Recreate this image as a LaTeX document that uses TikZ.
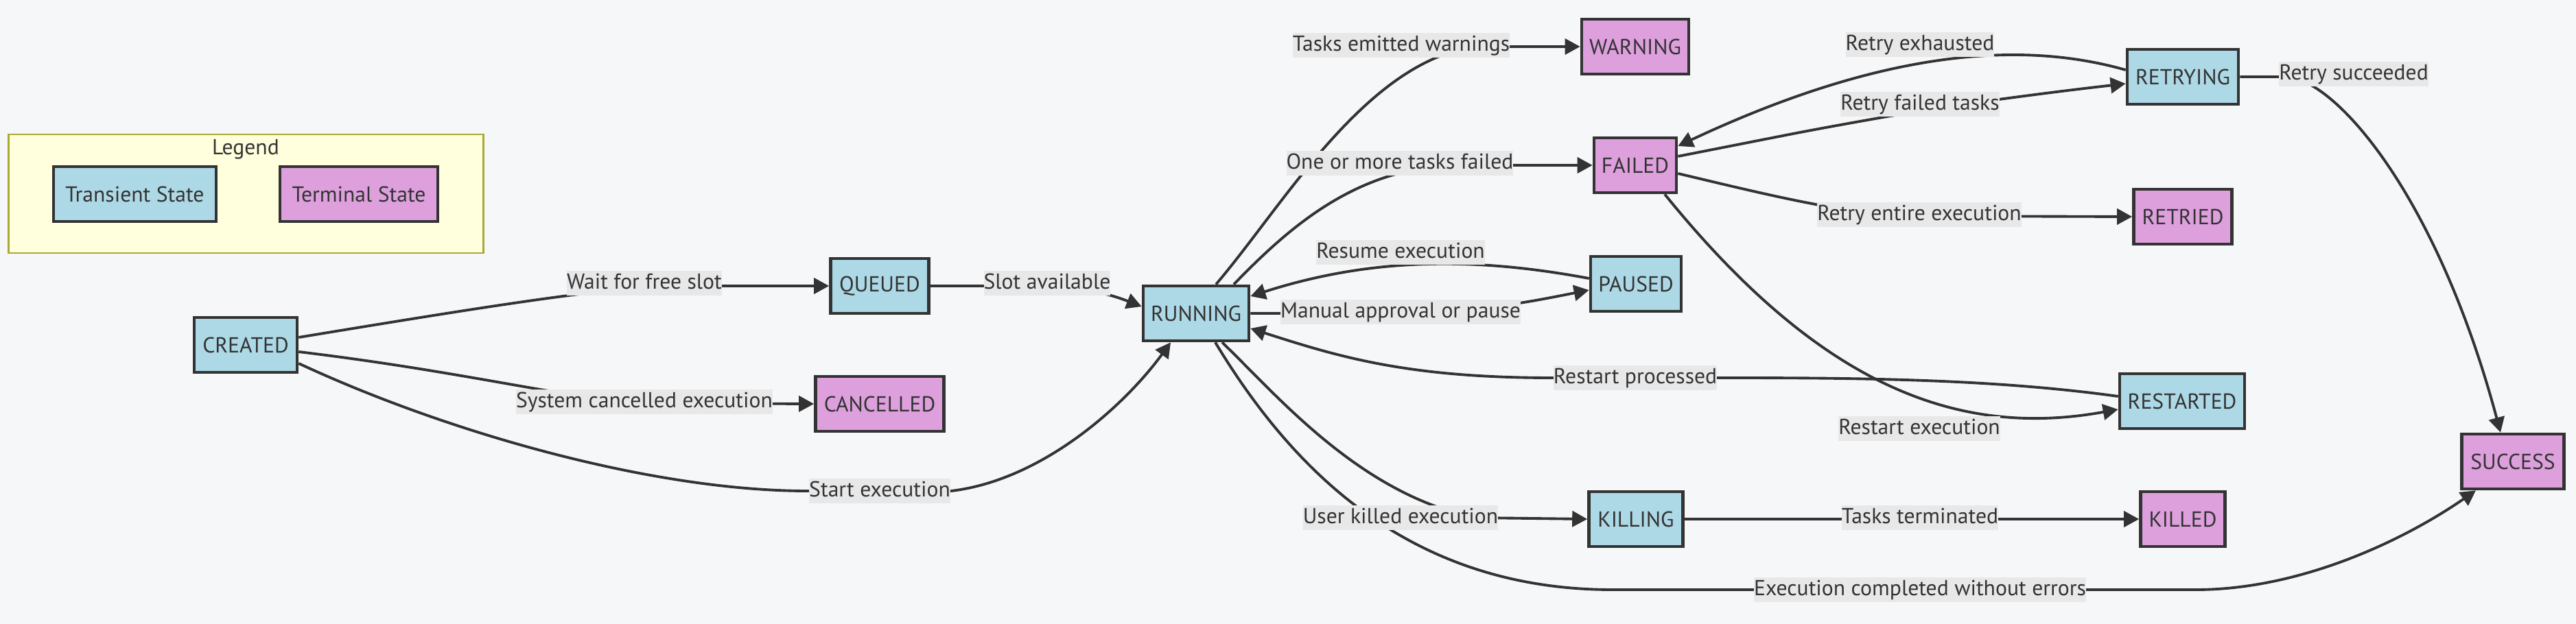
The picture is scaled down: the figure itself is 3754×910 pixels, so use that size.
\documentclass[tikz,border=0pt]{standalone}
\usepackage{fontspec}
\setmainfont{PT Sans}
\usetikzlibrary{arrows.meta}
\definecolor{bgc}{HTML}{F6F7F9}
\definecolor{ink}{HTML}{333333}
\definecolor{transc}{HTML}{ADD8E6}
\definecolor{termc}{HTML}{DDA0DD}
\definecolor{lblbg}{HTML}{E8E8E8}
\definecolor{legfill}{HTML}{FFFFDE}
\definecolor{legdraw}{HTML}{AAAA33}
\begin{document}
\begin{tikzpicture}[x=0.01cm,y=-0.01cm,
  every node/.style={font=\fontsize{9pt}{10.5pt}\selectfont, text=ink},
  stbox/.style={draw=ink, line width=1.3pt, minimum height=0.8cm, inner sep=0pt},
  tnode/.style={stbox, fill=transc},
  fnode/.style={stbox, fill=termc},
  elabel/.style={fill=lblbg, inner xsep=0pt, inner ysep=0.03cm, text height=0.23cm, text depth=0.06cm},
  conn/.style={draw=ink, line width=1.1pt, -{Triangle[length=0.22cm,width=0.23cm]}, line join=round},
]
\fill[bgc] (0,0) rectangle (3754,910);
\useasboundingbox (0,0) rectangle (3754,910);

% Legend
\node[draw=legdraw, fill=legfill, line width=0.8pt, minimum width=6.91cm, minimum height=1.73cm, inner sep=0pt] (legend) at (358.5,282.5) {};
\node (legendtitle) at (358,218) {Legend};
\node[tnode, minimum width=2.37cm] (legT) at (196.5,283) {Transient State};
\node[fnode, minimum width=2.30cm] (legF) at (523,283) {Terminal State};

% States
\node[tnode, minimum width=1.50cm] (created) at (358,503) {CREATED};
\node[tnode, minimum width=1.43cm] (queued) at (1282,417) {QUEUED};
\node[fnode, minimum width=1.87cm] (cancelled) at (1282,589) {CANCELLED};
\node[tnode, minimum width=1.54cm] (running) at (1743,457) {RUNNING};
\node[fnode, minimum width=1.56cm] (warning) at (2383,68) {WARNING};
\node[fnode, minimum width=1.20cm] (failed) at (2383,241) {FAILED};
\node[tnode, minimum width=1.32cm] (paused) at (2384,414) {PAUSED};
\node[tnode, minimum width=1.62cm] (retrying) at (3181,112) {RETRYING};
\node[fnode, minimum width=1.43cm] (retried) at (3181,316) {RETRIED};
\node[tnode, minimum width=1.82cm] (restarted) at (3180,585) {RESTARTED};
\node[tnode, minimum width=1.37cm] (killing) at (2384,757) {KILLING};
\node[fnode, minimum width=1.23cm] (killed) at (3181,757) {KILLED};
\node[fnode, minimum width=1.49cm] (success) at (3662,673) {SUCCESS};

% Connectors
\draw[conn] ([shift={(0,-11)}]created.east) .. controls (750,440) and (900,417) .. (1000,417) -- (queued.west);
\draw[conn] (queued.east) -- (1480,417) .. controls (1580,417) and (1620,430) .. ([shift={(0,-10)}]running.west);
\draw[conn] ([shift={(0,10)}]created.east) .. controls (700,545) and (850,588) .. (960,588) -- (cancelled.west);
\draw[conn] ([shift={(0,27)}]created.east) .. controls (650,630) and (950,716) .. (1177,716) -- (1386,716) .. controls (1520,700) and (1640,590) .. ([shift={(-37,0)}]running.south);
\draw[conn] ([shift={(29,0)}]running.north) .. controls (1870,300) and (1990,90) .. (2150,68) -- (warning.west);
\draw[conn] ([shift={(55,0)}]running.north) .. controls (1880,330) and (1980,241) .. (2130,241) -- (failed.west);
\draw[conn] (running.east) -- (2000,457) .. controls (2150,457) and (2230,440) .. ([shift={(0,9)}]paused.west);
\draw[conn] ([shift={(0,-8)}]paused.west) .. controls (2150,375) and (2000,375) .. ([shift={(0,-25)}]running.east);
\draw[conn, rounded corners=40] ([shift={(0,-13)}]failed.east) -- (2740,170) -- (2916,143) -- ([shift={(0,10)}]retrying.west);
\draw[conn] ([shift={(0,-10)}]retrying.west) .. controls (2950,60) and (2750,70) .. ([shift={(0,-28)}]failed.east);
\draw[conn] ([shift={(0,12)}]failed.east) .. controls (2600,290) and (2700,314) .. (2800,315) -- (retried.west);
\draw[conn] ([shift={(43,0)}]failed.south) .. controls (2650,560) and (2850,640) .. ([shift={(0,12)}]restarted.west);
\draw[conn] ([shift={(0,-7)}]restarted.west) .. controls (2900,552) and (2700,551) .. (2500,551) -- (2262,551) .. controls (2050,551) and (1950,520) .. ([shift={(0,22)}]running.east);
\draw[conn] ([shift={(38,0)}]running.south) .. controls (1860,575) and (1980,720) .. (2150,755) -- (killing.west);
\draw[conn] ([shift={(28,0)}]running.south) .. controls (1880,680) and (2050,860) .. (2350,860) -- (3200,860) .. controls (3350,860) and (3500,790) .. ([shift={(-54,0)}]success.south);
\draw[conn] (retrying.east) -- (3330,112) .. controls (3400,112) and (3550,280) .. ([shift={(-18,0)}]success.north);
\draw[conn] (killing.east) -- (killed.west);

% Edge labels
\node[elabel] (l1) at (939,413) {Wait for free slot};
\node[elabel] (l2) at (1526,413) {Slot available};
\node[elabel] (l3) at (939,586) {System cancelled execution};
\node[elabel] (l4) at (1282,716) {Start execution};
\node[elabel] (l5) at (2042,66) {Tasks emitted warnings};
\node[elabel] (l6) at (2040,238) {One or more tasks failed};
\node[elabel] (l7) at (2041,368) {Resume execution};
\node[elabel] (l8) at (2041,455) {Manual approval or pause};
\node[elabel] (l9) at (2798,65) {Retry exhausted};
\node[elabel] (l10) at (2798,152) {Retry failed tasks};
\node[elabel] (l11) at (2797,313) {Retry entire execution};
\node[elabel] (l12) at (3430,108) {Retry succeeded};
\node[elabel] (l13) at (2383,551) {Restart processed};
\node[elabel] (l14) at (2797,625) {Restart execution};
\node[elabel] (l15) at (2041,755) {User killed execution};
\node[elabel] (l16) at (2798,755) {Tasks terminated};
\node[elabel] (l17) at (2798,860) {Execution completed without errors};
\end{tikzpicture}
\end{document}
